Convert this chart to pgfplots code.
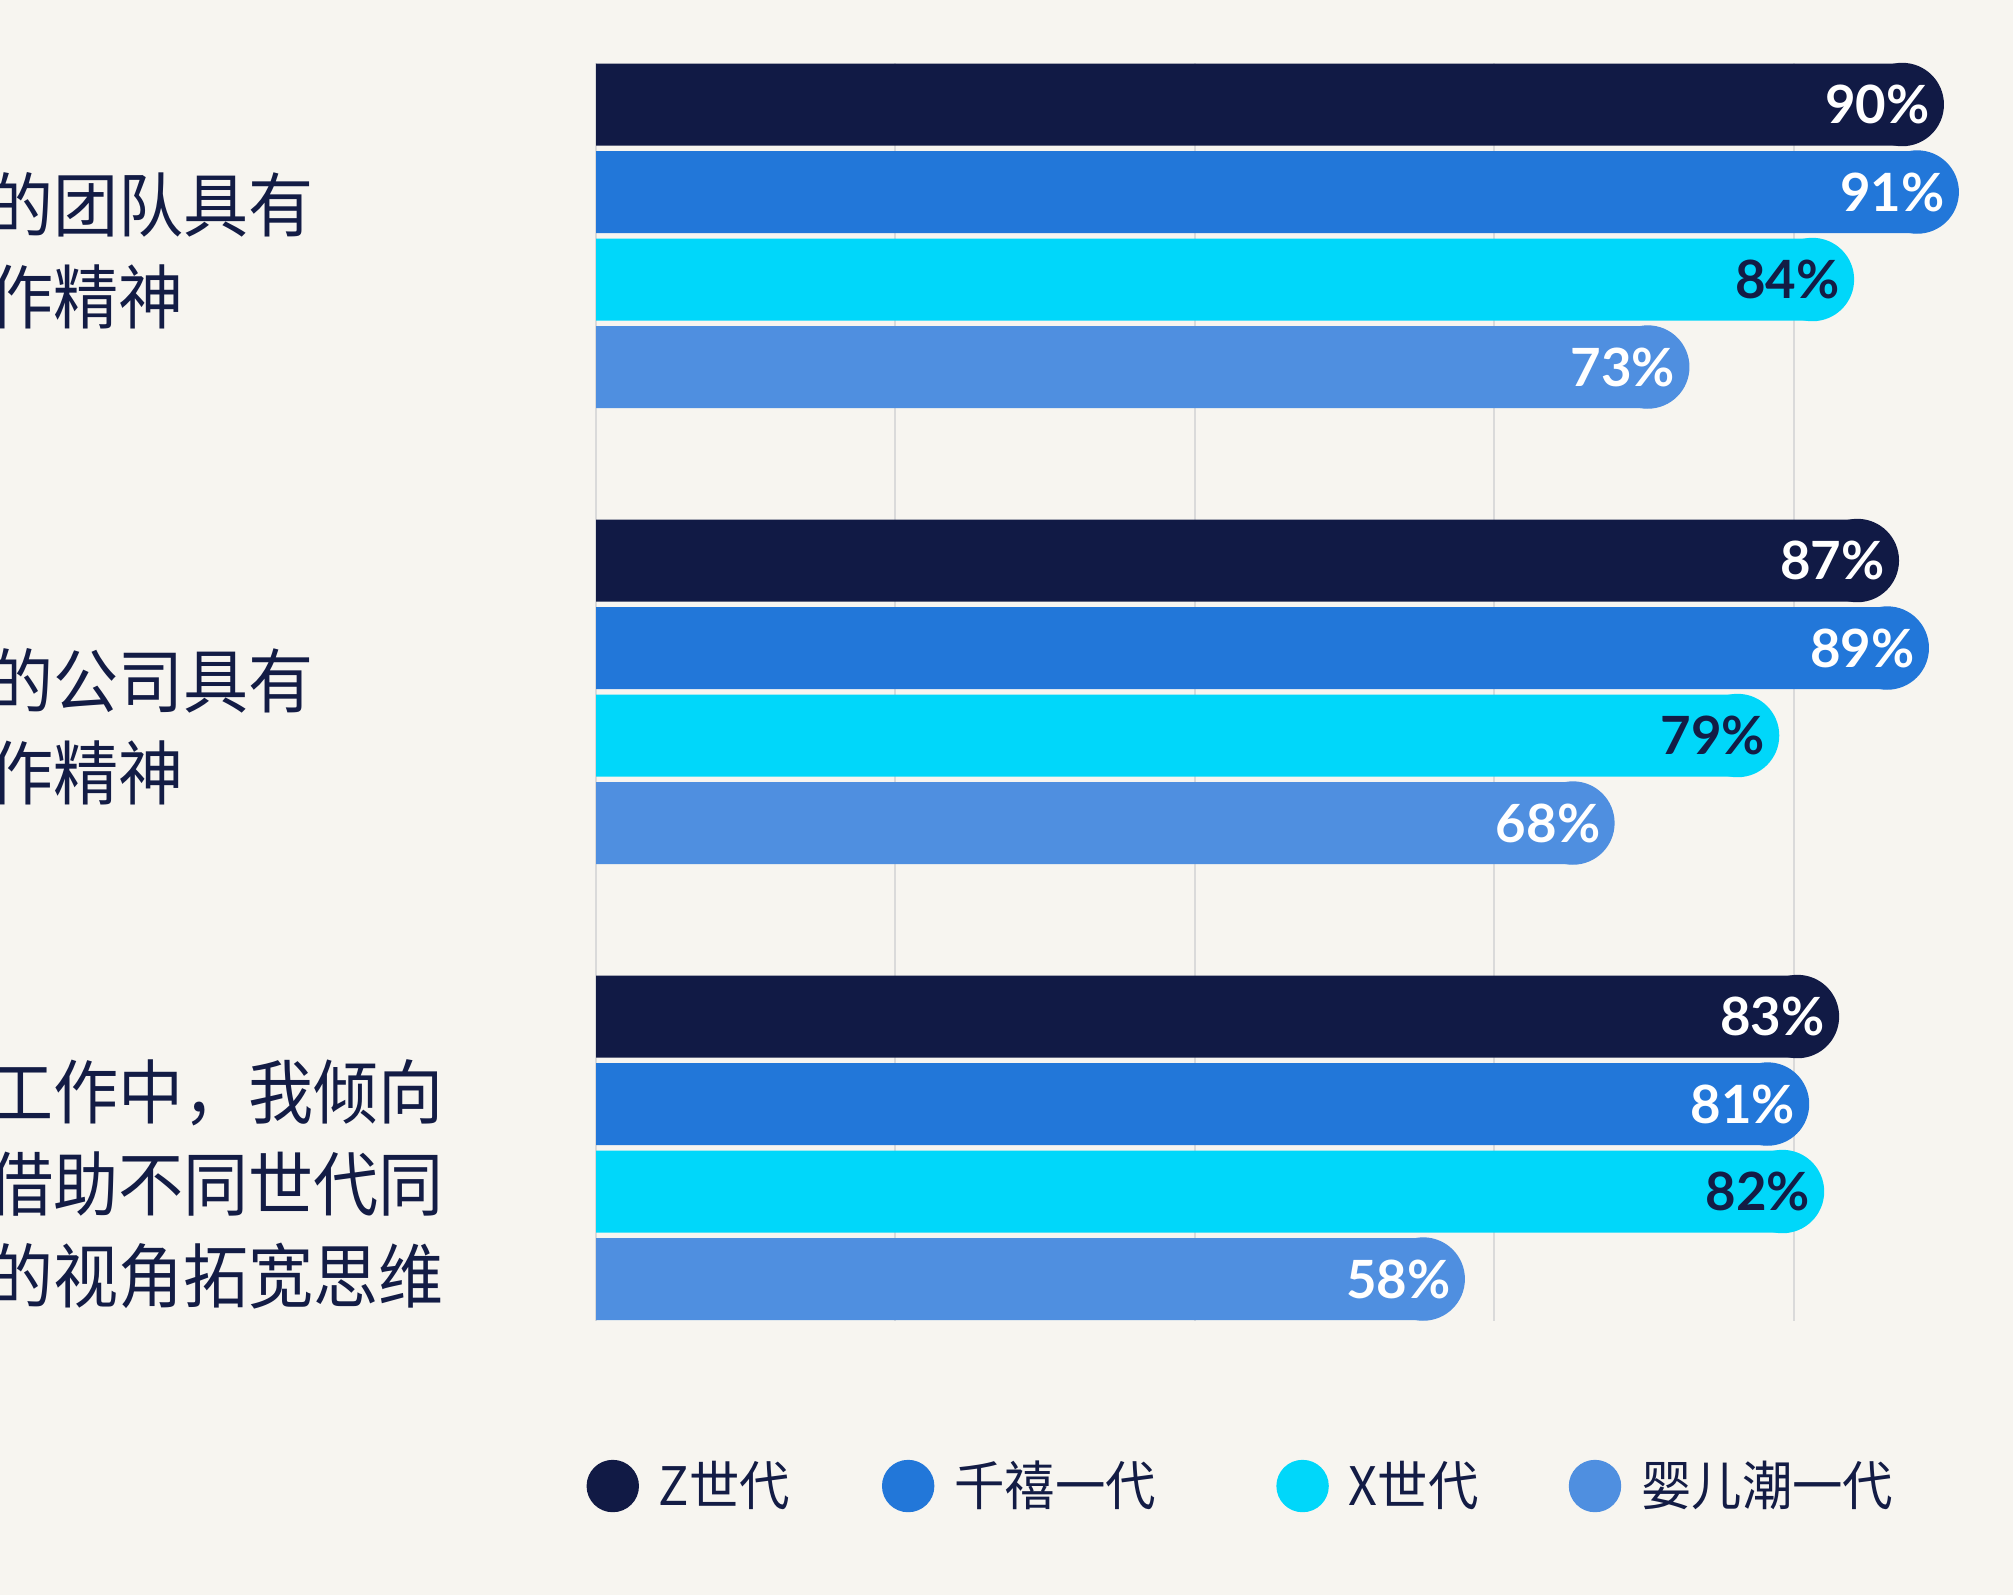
\documentclass[border=0pt]{standalone}
\usepackage{pgfplots}
\pgfplotsset{compat=1.18}
\usepackage{pgfplotstable}
\usepackage{fontspec}
\setmainfont{Lato}
\newfontfamily\cjklab[FakeStretch=0.93]{Noto Sans CJK SC}
\newfontfamily\cjkleg[FakeStretch=0.95]{Noto Sans CJK SC}
\newfontfamily\numfont{Lato}
\definecolor{bg}{HTML}{F7F5F0}
\definecolor{cZ}{HTML}{111A45}
\definecolor{cM}{HTML}{2277D9}
\definecolor{cX}{HTML}{00D7FA}
\definecolor{cB}{HTML}{4F8FE0}
\definecolor{txt}{HTML}{131C45}
\definecolor{gridc}{HTML}{DADADA}

% y = bar centre (position from top), v = percentage
\pgfplotstableread{
y v
104.5 90
560.5 87
1016.5 83
}\tZ
\pgfplotstableread{
y v
192 91
648 89
1104 81
}\tM
\pgfplotstableread{
y v
279.5 84
735.5 79
1191.5 82
}\tX
\pgfplotstableread{
y v
367 73
823 68
1279 58
}\tB

\pgfplotsset{
  barstyle/.style={xbar, bar width=0.82cm, bar shift=0pt, fill=#1, draw=none, forget plot},
  capstyle/.style 2 args={only marks, mark=*, mark size=0.41cm, color=#1,
    mark options={draw=none, fill=#1},
    point meta=explicit,
    nodes near coords={\pgfmathprintnumber[assume math mode=true]{\pgfplotspointmeta}\%},
    nodes near coords style={anchor=east, xshift=0.28cm, inner sep=0pt, text=#2,
      font=\numfont\bfseries\fontsize{15pt}{17pt}\selectfont},
    legend image code/.code={\fill[#1] (0.255cm,0cm) circle (0.255cm);}},
}

\begin{document}
\begin{tikzpicture}
\fill[bg] (0,0) rectangle (20.13cm,15.95cm);
\begin{axis}[
  at={(5.96cm,15.32cm)}, anchor=north west,
  scale only axis, width=14.17cm, height=12.58cm,
  xmin=0, xmax=94.66, ymin=63, ymax=1321, y dir=reverse,
  axis line style={draw=none},
  xtick={0,20,40,60,80}, xticklabels={},
  xmajorgrids, grid style={gridc, line width=0.6pt},
  major tick length=0pt,
  ytick={251,727,1184},
  yticklabels={{的团队具有\\作精神}, {的公司具有\\作精神}, {工作中，我倾向\\借助不同世代同\\的视角拓宽思维}},
  yticklabel style={anchor=west, xshift=-6.08cm, align=left, text width=6.2cm, inner sep=0pt,
    font=\cjklab\fontsize{19.9pt}{26.2pt}\selectfont, text=txt},
  legend columns=4,
  legend style={at={(axis cs:-0.63,1486)}, anchor=west, draw=none, fill=none,
    inner sep=0pt, outer sep=0pt, nodes={inner sep=0pt},
    font=\cjkleg\fontsize{15.1pt}{18pt}\selectfont, text=txt,
    /tikz/every odd column/.append style={column sep=0.2cm}},
  legend cell align=left,
]
\addplot[barstyle=cZ] table[x expr=\thisrow{v}-2.74, y=y] {\tZ};
\addplot[capstyle={cZ}{white}] table[x expr=\thisrow{v}-2.74, y=y, meta=v] {\tZ};
\addlegendentry{\makebox[2.23cm][l]{Z世代}}
\addplot[barstyle=cM] table[x expr=\thisrow{v}-2.74, y=y] {\tM};
\addplot[capstyle={cM}{white}] table[x expr=\thisrow{v}-2.74, y=y, meta=v] {\tM};
\addlegendentry{\makebox[3.22cm][l]{千禧一代}}
\addplot[barstyle=cX] table[x expr=\thisrow{v}-2.74, y=y] {\tX};
\addplot[capstyle={cX}{txt}] table[x expr=\thisrow{v}-2.74, y=y, meta=v] {\tX};
\addlegendentry{\makebox[2.2cm][l]{X世代}}
\addplot[barstyle=cB] table[x expr=\thisrow{v}-2.74, y=y] {\tB};
\addplot[capstyle={cB}{white}] table[x expr=\thisrow{v}-2.74, y=y, meta=v] {\tB};
\addlegendentry{婴儿潮一代}
\end{axis}
\pgfresetboundingbox
\path[use as bounding box] (0,0) rectangle (20.13cm,15.95cm);
\end{tikzpicture}
\end{document}
